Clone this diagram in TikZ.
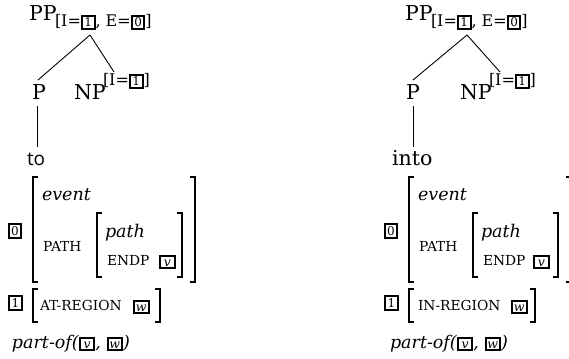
\documentclass[tikz,border=0pt]{standalone}
\usepackage{fontspec}
\setmainfont{DejaVu Serif}
\newfontfamily\sansf{Open Sans}
\newcommand\tg[1]{{\setlength\fboxrule{2pt}\setlength\fboxsep{1.3pt}\fbox{\fontsize{12}{12}\selectfont\upshape\makebox[8pt]{#1}}}}
\newcommand\vb[1]{{\setlength\fboxrule{2pt}\setlength\fboxsep{1.3pt}\fbox{\makebox[10pt]{\rule{0pt}{8pt}\fontsize{12.5}{12}\selectfont\itshape #1}}}}
\tikzset{
  lbl/.style={inner sep=0,outer sep=0,anchor=base west},
  tree/.style={lbl,font=\fontsize{20.5}{20}\selectfont},
  sub/.style={lbl,font=\fontsize{16}{16}\selectfont},
  avm/.style={lbl,font=\fontsize{17.5}{17}\selectfont\itshape},
  sc/.style={lbl,font=\fontsize{13.8}{14}\selectfont},
  tagn/.style={inner sep=0,outer sep=0,anchor=center},
  edge/.style={line width=0.9pt},
  brk/.style={line width=1.2pt}
}
\begin{document}
\begin{tikzpicture}[x=1pt,y=-1pt]
\useasboundingbox (0,0) rectangle (569,358);
\clip (0,0) rectangle (569,358);
% ---------------- left ----------------
\node[tree] (lpp) at (29,21) {PP};
\node[sub] (lppsub) at (55,27) {[I=\tg{1}, E=\tg{0}]};
\coordinate (lapex) at (90,35);
\node[tree] (lp) at (32,100) {P};
\node[tree] (lnp) at (74,100) {NP};
\node[sub] (lnpsup) at (103,86) {[I=\tg{1}]};
\coordinate (lpe) at (38,80);
\coordinate (lnpe) at (114,72);
\draw[edge] (lapex) -- (lpe);
\draw[edge] (lapex) -- (lnpe);
\coordinate (lvt) at (37.7,106);
\node[lbl,font=\fontsize{19}{19}\sansf] (lto) at (27,165) {to};
\coordinate (lvb) at (37.7,147);
\draw[edge] (lvt) -- (lvb);
% avm
\draw[brk] (38,177) -- (33,177) -- (33,282) -- (38,282);
\draw[brk] (190,177) -- (195,177) -- (195,282) -- (190,282);
\node[tagn] (ltag0) at (15,231) {\tg{0}};
\node[avm] (levent) at (42,200) {event};
\node[sc] (lpath) at (43,251) {PATH};
\draw[brk] (102,213) -- (97,213) -- (97,277) -- (102,277);
\draw[brk] (177,213) -- (182,213) -- (182,277) -- (177,277);
\node[avm] (lpathv) at (105,237) {path};
\node[sc] (lendp) at (107,265) {ENDP};
\node[lbl] (lv) at (159,266) {\vb{v}};
\node[tagn] (ltag1) at (15.5,303) {\tg{1}};
\draw[brk] (38,289) -- (33,289) -- (33,322) -- (38,322);
\draw[brk] (155,289) -- (160,289) -- (160,322) -- (155,322);
\node[sc] (lat) at (40,310) {AT-REGION};
\node[lbl] (lw) at (133,311) {\vb{w}};
\node[avm] (lpart) at (12,348) {part-of(\vb{v}, \vb{w})};
% ---------------- right ----------------
\node[tree] (rpp) at (405,21) {PP};
\node[sub] (rppsub) at (431,27) {[I=\tg{1}, E=\tg{0}]};
\coordinate (rapex) at (467,35);
\node[tree] (rp) at (406,100) {P};
\node[tree] (rnp) at (460,100) {NP};
\node[sub] (rnpsup) at (489,86) {[I=\tg{1}]};
\coordinate (rpe) at (413,80);
\coordinate (rnpe) at (500,72);
\draw[edge] (rapex) -- (rpe);
\draw[edge] (rapex) -- (rnpe);
\coordinate (rvt) at (413,106);
\node[tree] (rinto) at (392,165) {into};
\coordinate (rvb) at (413,147);
\draw[edge] (rvt) -- (rvb);
\begin{scope}[xshift=376pt]
\draw[brk] (38,177) -- (33,177) -- (33,282) -- (38,282);
\draw[brk] (190,177) -- (195,177) -- (195,282) -- (190,282);
\node[tagn] (rtag0) at (15,231) {\tg{0}};
\node[avm] (revent) at (42,200) {event};
\node[sc] (rpath) at (43,251) {PATH};
\draw[brk] (102,213) -- (97,213) -- (97,277) -- (102,277);
\draw[brk] (177,213) -- (182,213) -- (182,277) -- (177,277);
\node[avm] (rpathv) at (105,237) {path};
\node[sc] (rendp) at (107,265) {ENDP};
\node[lbl] (rv) at (157,266) {\vb{v}};
\node[tagn] (rtag1) at (15.5,303) {\tg{1}};
\draw[brk] (38,289) -- (33,289) -- (33,322) -- (38,322);
\draw[brk] (154,289) -- (159,289) -- (159,322) -- (154,322);
\node[sc] (rin) at (42,310) {IN-REGION};
\node[lbl] (rw) at (135,311) {\vb{w}};
\node[avm] (rpart) at (14,348) {part-of(\vb{v}, \vb{w})};
\end{scope}
\end{tikzpicture}
\end{document}
